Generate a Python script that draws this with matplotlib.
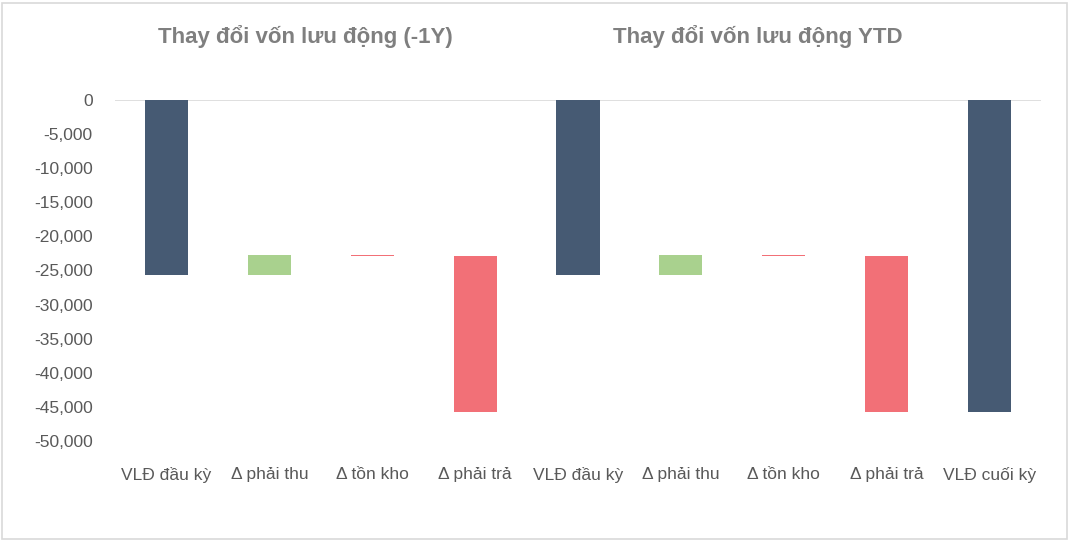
import matplotlib
matplotlib.use("Agg")
import matplotlib.pyplot as plt
from matplotlib.patches import Rectangle
from matplotlib.ticker import FuncFormatter
import numpy as np

categories = ["VLĐ đầu kỳ", "Δ phải thu", "Δ tồn kho", "Δ phải trả",
              "VLĐ đầu kỳ", "Δ phải thu", "Δ tồn kho", "Δ phải trả", "VLĐ cuối kỳ"]
# kind: 'total' bars start at 0, 'delta' bars float
kinds = ["total", "delta", "delta", "delta", "total", "delta", "delta", "delta", "total"]
values = [-25700, 2950, -60, -22890, -25700, 2950, -60, -22890, -45700]
titles = ["Thay đổi vốn lưu động (-1Y)", "Thay đổi vốn lưu động YTD"]
yticks = [0, -5000, -10000, -15000, -20000, -25000, -30000, -35000, -40000, -45000, -50000]

c_total = "#465a73"
c_up = "#a9d18e"
c_down = "#f27077"

fonts = ["Liberation Sans Narrow", "Liberation Sans", "DejaVu Sans"]
plt.rcParams["font.family"] = fonts

fig = plt.figure(figsize=(10.81, 5.41), dpi=100)
ax = fig.add_axes([115/1081, 1-441/541, (1041-115)/1081, (441-100)/541])

x = np.arange(len(categories))
bottoms, heights, colors = [], [], []
running = 0
for k, v in zip(kinds, values):
    if k == "total":
        bottoms.append(0); heights.append(v); colors.append(c_total)
        running = v
    else:
        bottoms.append(running); heights.append(v)
        colors.append(c_up if v >= 0 else c_down)
        running += v

ax.bar(x, heights, bottom=bottoms, width=0.42, color=colors, edgecolor="none", zorder=3)
ax.axhline(0, color="#d9d9d9", lw=1.2, zorder=2)

ax.set_xlim(-0.5, len(categories)-0.5)
ax.set_ylim(-50000, 0)
ax.set_yticks(yticks)
ax.yaxis.set_major_formatter(FuncFormatter(lambda v, p: f"{int(v):,}"))
ax.set_xticks(x)
ax.set_xticklabels(categories)
ax.tick_params(axis="both", length=0, colors="#595959", labelsize=12.5)
ax.tick_params(axis="x", pad=19)
ax.tick_params(axis="y", pad=16)
for s in ax.spines.values():
    s.set_visible(False)

fig.text(305/1081, 1-37/541, titles[0], ha="center", va="center", fontsize=16,
         fontweight="bold", color="#7f7f7f")
fig.text(758/1081, 1-37/541, titles[1], ha="center", va="center", fontsize=16,
         fontweight="bold", color="#7f7f7f")

fig.patches.append(Rectangle((2/1081, 1-539/541), 1065/1081, 536/541, transform=fig.transFigure,
                             fill=False, edgecolor="#d9d9d9", lw=1.2))

fig.savefig("out.png", dpi=100, facecolor="white")
